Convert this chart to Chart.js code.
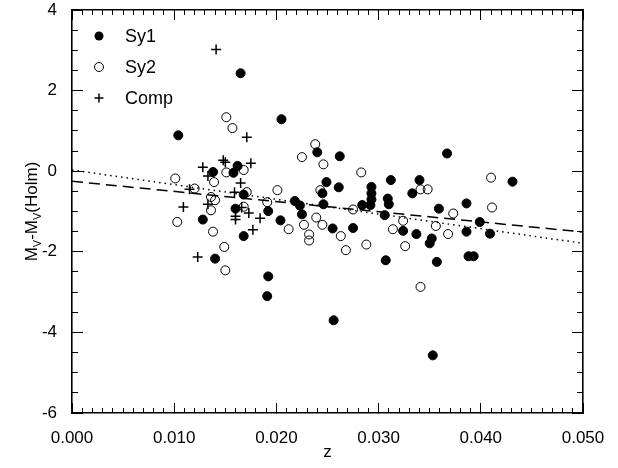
<!DOCTYPE html>
<html>
<head>
<meta charset="utf-8">
<script src="https://cdn.jsdelivr.net/npm/chart.js@4.4.0/dist/chart.umd.min.js"></script>
<style>
  html, body { margin: 0; padding: 0; background: #fff; }
</style>
</head>
<body>
<canvas id="scatter-chart" width="618" height="468"></canvas>
<script>
// scatter of M_V - M_V(Holm) against redshift z

// 1. The data: [z, magnitude difference]
const sy1Points = [
  [0.0104, 0.89], [0.0165, 2.43], [0.0205, 1.29], [0.0240, 0.47], [0.0262, 0.37], [0.0367, 0.44],
  [0.0138, -0.02], [0.0162, 0.13], [0.0158, -0.04], [0.0168, -0.58], [0.0218, -0.74], [0.0246, -0.82],
  [0.0261, -0.40], [0.0249, -0.27], [0.0245, -0.55], [0.0160, -0.93], [0.0192, -0.99], [0.0312, -0.22],
  [0.0340, -0.22], [0.0431, -0.26], [0.0293, -0.39], [0.0293, -0.55], [0.0293, -0.70], [0.0292, -0.84],
  [0.0333, -0.55], [0.0309, -0.68], [0.0310, -0.82], [0.0386, -0.80], [0.0359, -0.93], [0.0284, -0.84],
  [0.0256, -3.70], [0.0353, -4.57], [0.0307, -2.21], [0.0357, -2.25], [0.0388, -2.11], [0.0393, -2.11],
  [0.0350, -1.79], [0.0352, -1.67], [0.0255, -1.42], [0.0275, -1.41], [0.0324, -1.48], [0.0337, -1.56],
  [0.0386, -1.50], [0.0409, -1.55], [0.0399, -1.26], [0.0306, -1.09], [0.0128, -1.20], [0.0140, -2.17],
  [0.0168, -1.61], [0.0204, -1.22], [0.0225, -1.07], [0.0192, -2.61], [0.0191, -3.10], [0.0223, -0.85],
];

const sy2Points = [
  [0.0151, 1.34], [0.0157, 1.07], [0.0238, 0.67], [0.0225, 0.35], [0.0246, 0.17], [0.0283, -0.03],
  [0.0410, -0.16], [0.0168, 0.03], [0.0151, -0.03], [0.0101, -0.18], [0.0139, -0.27], [0.0120, -0.43],
  [0.0201, -0.47], [0.0171, -0.52], [0.0136, -0.64], [0.0140, -0.72], [0.0191, -0.77], [0.0243, -0.47],
  [0.0341, -0.45], [0.0348, -0.45], [0.0411, -0.90], [0.0275, -0.95], [0.0341, -2.87], [0.0326, -1.86],
  [0.0288, -1.82], [0.0268, -1.96], [0.0263, -1.61], [0.0314, -1.44], [0.0356, -1.36], [0.0368, -1.56],
  [0.0324, -1.23], [0.0373, -1.05], [0.0103, -1.26], [0.0136, -0.97], [0.0138, -1.50], [0.0149, -1.88],
  [0.0150, -2.46], [0.0212, -1.44], [0.0227, -1.33], [0.0232, -1.57], [0.0232, -1.72], [0.0239, -1.15],
  [0.0245, -1.33], [0.0168, -0.88],
];

const compPoints = [
  [0.0141, 3.02], [0.0171, 0.84], [0.0148, 0.27], [0.0150, 0.22], [0.0128, 0.10], [0.0175, 0.20],
  [0.0133, -0.12], [0.0165, -0.29], [0.0115, -0.45], [0.0159, -0.52], [0.0109, -0.89], [0.0133, -0.82],
  [0.0160, -1.12], [0.0160, -1.20], [0.0173, -1.04], [0.0184, -1.17], [0.0177, -1.45], [0.0123, -2.13],
  [0.0166, -0.90],
];

// fitted lines, end points at z = 0 and z = 0.05
const dottedFit = [[0, 0.03], [0.05, -1.79]];
const dashedFit = [[0, -0.25], [0.05, -1.51]];

// axis ticks
const xTicks = [0, 0.01, 0.02, 0.03, 0.04, 0.05];
const yTicks = [-6, -4, -2, 0, 2, 4];
const xMinorStep = 0.001;
const yMinorStep = 0.5;

const legendLabels = ['Sy1', 'Sy2', 'Comp'];

const toXY = (pts) => pts.map(([x, y]) => ({ x, y }));
const FONT = '"Liberation Sans", Arial, Helvetica, sans-serif';

// minor tick positions between first and last major tick
const minorsOf = (ticks, step) => {
  const out = [];
  const n = Math.round((ticks[ticks.length - 1] - ticks[0]) / step);
  for (let i = 0; i <= n; i++) out.push(ticks[0] + i * step);
  return out;
};
const xMinorTicks = minorsOf(xTicks, xMinorStep);
const yMinorTicks = minorsOf(yTicks, yMinorStep);

// tick marks pointing into the plot (negative tick length)
const inwardGrid = (len) => ({
  display: true,
  drawOnChartArea: false,
  drawTicks: true,
  tickLength: -len,
  color: '#000',
  lineWidth: 1,
});
const frameBorder = { display: true, color: '#000', width: 1.6 };
const noBorder = { display: false };

// an extra axis that only carries tick marks
function markAxis(axis, position, values, len, weight, border) {
  const horizontal = axis === 'x';
  const ticks = axis === 'x' ? xTicks : yTicks;
  return {
    type: 'linear',
    axis,
    position,
    weight,
    min: ticks[0],
    max: ticks[ticks.length - 1],
    afterBuildTicks: (s) => { s.ticks = values.map((v) => ({ value: v })); },
    afterFit: (s) => {
      if (horizontal) s.height = 0; else s.width = 0;
      s.paddingTop = s.paddingBottom = s.paddingLeft = s.paddingRight = 0;
    },
    grid: inwardGrid(len),
    border,
    ticks: { display: false },
  };
}

// legend inside the plot, upper left
function drawLegend(chart) {
  const { ctx, chartArea: a } = chart;
  ctx.save();
  ctx.setLineDash([]);
  ctx.font = '18px ' + FONT;
  ctx.fillStyle = '#000';
  ctx.strokeStyle = '#000';
  ctx.textBaseline = 'middle';
  legendLabels.forEach((label, i) => {
    const mx = a.left + 27;
    const my = a.top + 26 + i * 31;
    ctx.beginPath();
    if (i === 0) {
      ctx.arc(mx, my, 4.5, 0, Math.PI * 2);
      ctx.fill();
    } else if (i === 1) {
      ctx.lineWidth = 1;
      ctx.arc(mx, my, 4.5, 0, Math.PI * 2);
      ctx.stroke();
    } else {
      ctx.lineWidth = 1.5;
      ctx.moveTo(mx - 4.5, my); ctx.lineTo(mx + 4.5, my);
      ctx.moveTo(mx, my - 4.5); ctx.lineTo(mx, my + 4.5);
      ctx.stroke();
    }
    ctx.fillText(label, a.left + 53, my + 1);
  });
  ctx.restore();
}

// y axis title with subscripts: M_V-M_V(Holm)
function drawYTitle(chart) {
  const { ctx, chartArea: a } = chart;
  const parts = [
    ['M', 17, 0], ['V', 11, 4], ['-M', 17, 0], ['V', 11, 4], ['(Holm)', 17, 0],
  ];
  ctx.save();
  ctx.fillStyle = '#000';
  ctx.textBaseline = 'alphabetic';
  let total = 0;
  parts.forEach(([t, s]) => { ctx.font = s + 'px ' + FONT; total += ctx.measureText(t).width; });
  ctx.translate(37, (a.top + a.bottom) / 2);
  ctx.rotate(-Math.PI / 2);
  let cx = -total / 2;
  parts.forEach(([t, s, dy]) => {
    ctx.font = s + 'px ' + FONT;
    ctx.fillText(t, cx, dy);
    cx += ctx.measureText(t).width;
  });
  ctx.restore();
}

const extras = {
  id: 'extras',
  afterDraw(chart) {
    drawLegend(chart);
    drawYTitle(chart);
  },
};

// the chart configuration
const config = {
  type: 'scatter',
  data: {
    datasets: [
      {
        label: 'dotted fit',
        type: 'line',
        data: toXY(dottedFit),
        borderColor: '#000',
        borderWidth: 1.5,
        borderDash: [1.5, 4],
        pointRadius: 0,
        fill: false,
      },
      {
        label: 'dashed fit',
        type: 'line',
        data: toXY(dashedFit),
        borderColor: '#000',
        borderWidth: 1.5,
        borderDash: [11, 6],
        pointRadius: 0,
        fill: false,
      },
      {
        label: 'Sy1',
        data: toXY(sy1Points),
        pointStyle: 'circle',
        pointRadius: 4.5,
        backgroundColor: '#000',
        borderColor: '#000',
        borderWidth: 1,
      },
      {
        label: 'Sy2',
        data: toXY(sy2Points),
        pointStyle: 'circle',
        pointRadius: 4.5,
        backgroundColor: 'rgba(0,0,0,0)',
        borderColor: '#000',
        borderWidth: 1,
      },
      {
        label: 'Comp',
        data: toXY(compPoints),
        pointStyle: 'cross',
        pointRadius: 5,
        borderColor: '#000',
        borderWidth: 1.5,
      },
    ],
  },
  options: {
    responsive: false,
    animation: false,
    layout: { padding: { top: 10, right: 35, left: 0, bottom: 0 } },
    plugins: {
      legend: { display: false },
      tooltip: { enabled: false },
    },
    scales: {
      x: {
        type: 'linear',
        position: 'bottom',
        weight: 1,
        min: xTicks[0],
        max: xTicks[xTicks.length - 1],
        afterBuildTicks: (s) => { s.ticks = xTicks.map((v) => ({ value: v })); },
        afterFit: (s) => { s.height = 55; s.paddingLeft = 0; s.paddingRight = 0; },
        grid: inwardGrid(10),
        border: frameBorder,
        ticks: {
          color: '#000',
          font: { family: FONT, size: 17 },
          padding: 25,
          maxRotation: 0,
          autoSkip: false,
          callback: (v) => Number(v).toFixed(3),
        },
        title: {
          display: true,
          text: 'z',
          color: '#000',
          font: { family: FONT, size: 17 },
          padding: { top: 0, bottom: 5 },
        },
      },
      xTop: markAxis('x', 'top', xTicks, 10, 1, frameBorder),
      xMinorBottom: markAxis('x', 'bottom', xMinorTicks, 5, 0, noBorder),
      xMinorTop: markAxis('x', 'top', xMinorTicks, 5, 0, noBorder),
      y: {
        type: 'linear',
        position: 'left',
        weight: 1,
        min: yTicks[0],
        max: yTicks[yTicks.length - 1],
        afterBuildTicks: (s) => { s.ticks = yTicks.map((v) => ({ value: v })); },
        afterFit: (s) => { s.width = 72; s.paddingTop = 0; s.paddingBottom = 0; },
        grid: inwardGrid(11),
        border: frameBorder,
        ticks: {
          color: '#000',
          font: { family: FONT, size: 17 },
          padding: 26,
          autoSkip: false,
          callback: (v) => String(v),
        },
      },
      yRight: markAxis('y', 'right', yTicks, 11, 1, frameBorder),
      yMinorLeft: markAxis('y', 'left', yMinorTicks, 6, 0, noBorder),
      yMinorRight: markAxis('y', 'right', yMinorTicks, 6, 0, noBorder),
    },
  },
  plugins: [extras],
};

// the chart instance
const scatterChart = new Chart(document.getElementById('scatter-chart').getContext('2d'), config);
</script>
</body>
</html>
